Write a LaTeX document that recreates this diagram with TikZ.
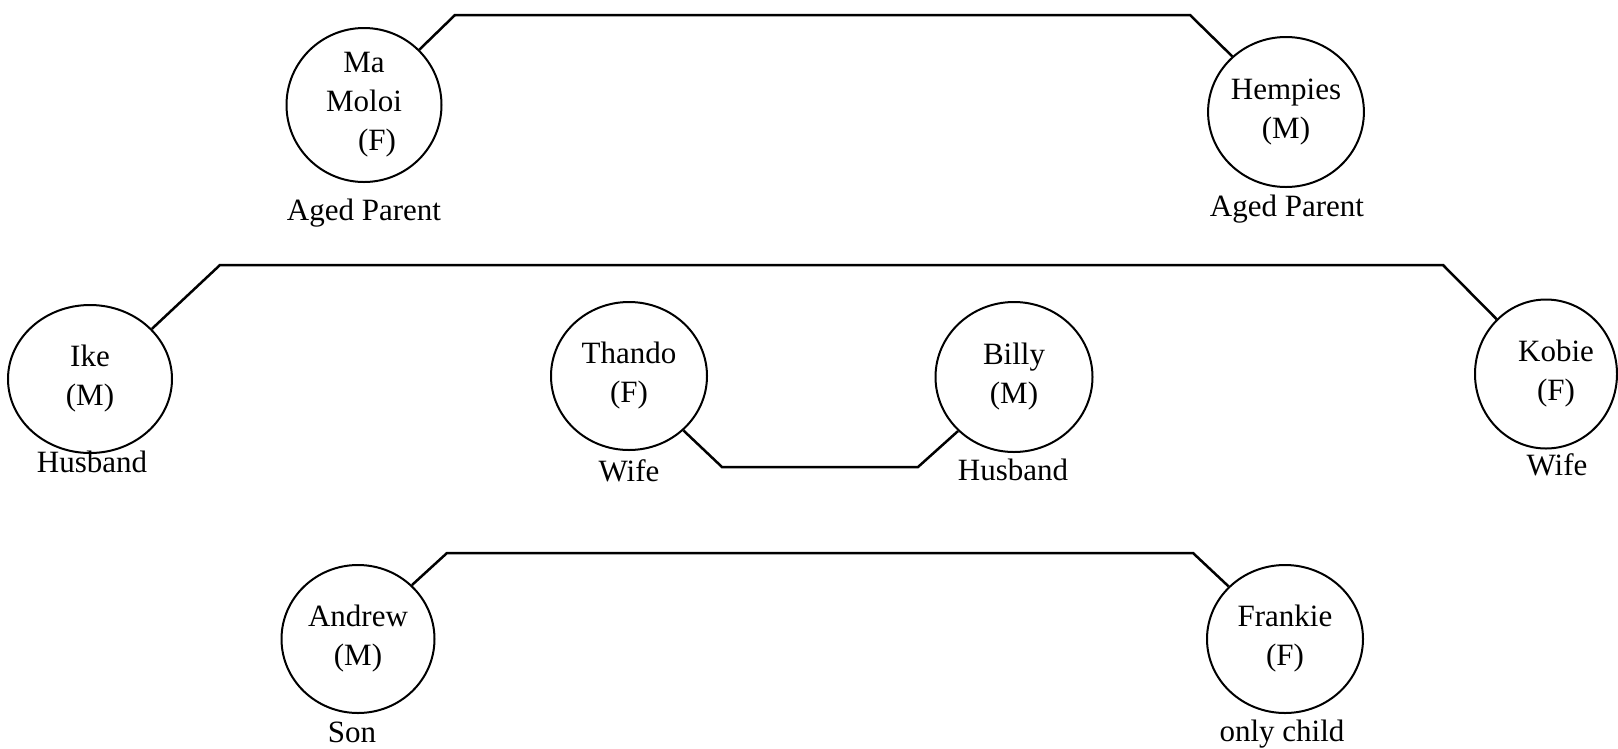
\documentclass[tikz,border=0pt]{standalone}
\usepackage{fontspec}
\setmainfont{Liberation Serif}
\usetikzlibrary{shapes.geometric}
\begin{document}
\begin{tikzpicture}[x=1pt,y=-1pt,
  person/.style={draw, ellipse, line width=2pt, inner sep=0pt, align=center,
    font=\fontsize{31}{39}\selectfont},
  role/.style={anchor=base, inner sep=0pt, font=\fontsize{31}{39}\selectfont},
  tie/.style={line width=2.5pt, line join=miter}]
  \useasboundingbox (0,0) rectangle (1618,748);

  % aged parents
  \node[person, minimum width=155pt, minimum height=154pt] (mm) at (364,105)
    {Ma\\Moloi\\\hspace*{26pt}(F)};
  \node[person, minimum width=155pt, minimum height=150pt] (hp) at (1286,112)
    {Hempies\\(M)};
  \node[role] (mmr) at (364,220) {Aged Parent};
  \node[role] (hpr) at (1287,216) {Aged Parent};
  \coordinate (t1) at (455,15);
  \coordinate (t2) at (1190,15);
  \draw[tie] (mm.45) -- (t1) -- (t2) -- (hp.134);

  % couples
  \node[person, minimum width=164pt, minimum height=148pt] (ik) at (90,379)
    {Ike\\(M)};
  \node[person, minimum width=142pt, minimum height=149pt] (kb) at (1546,374)
    {\hspace*{20pt}Kobie\\\hspace*{20pt}(F)};
  \node[person, minimum width=156pt, minimum height=148pt] (th) at (629,376)
    {Thando\\(F)};
  \node[person, minimum width=157pt, minimum height=150pt] (bl) at (1014,377)
    {Billy\\(M)};
  \node[role] (ikr) at (92,472) {Husband};
  \node[role] (kbr) at (1557,475) {Wife};
  \node[role] (thr) at (629,481) {Wife};
  \node[role] (blr) at (1013,480) {Husband};
  \coordinate (m1) at (220,265);
  \coordinate (m2) at (1443,265);
  \draw[tie] (ik.39) -- (m1) -- (m2) -- (kb.132);
  \coordinate (b1) at (722,467);
  \coordinate (b2) at (918,467);
  \draw[tie] (th.-45) -- (b1) -- (b2) -- (bl.-136);

  % children
  \node[person, minimum width=153pt, minimum height=148pt] (an) at (358,639)
    {Andrew\\(M)};
  \node[person, minimum width=156pt, minimum height=148pt] (fr) at (1285,639)
    {Frankie\\(F)};
  \node[role] (anr) at (352,742) {Son};
  \node[role] (frr) at (1282,741) {only child};
  \coordinate (k1) at (447,553);
  \coordinate (k2) at (1193,553);
  \draw[tie] (an.45) -- (k1) -- (k2) -- (fr.137);
\end{tikzpicture}
\end{document}
